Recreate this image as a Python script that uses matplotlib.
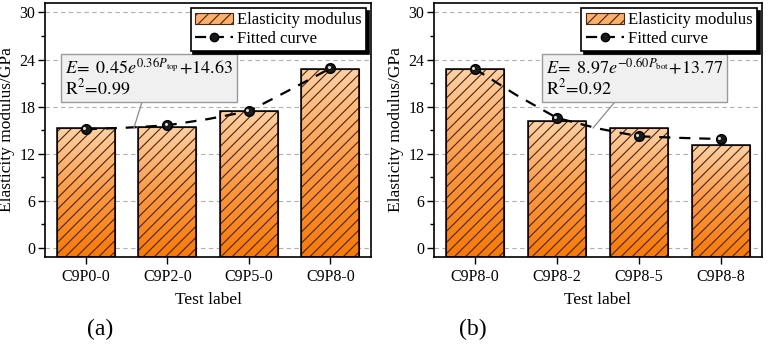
import matplotlib
matplotlib.use("Agg")
import matplotlib.pyplot as plt
import numpy as np
from matplotlib.colors import LinearSegmentedColormap
from matplotlib.patches import Rectangle
from matplotlib.lines import Line2D
from matplotlib.ticker import MultipleLocator

plt.rcParams['font.family'] = ['Liberation Serif', 'DejaVu Serif']
plt.rcParams['mathtext.fontset'] = 'stix'
plt.rcParams['hatch.linewidth'] = 0.8

# ---- data ----
labels_a = ["C9P0-0", "C9P2-0", "C9P5-0", "C9P8-0"]
values_a = [15.25, 15.4, 17.45, 22.8]
points_a = [15.1, 15.6, 17.4, 22.87]
curve_x_a = [0, 0.5, 1, 1.5, 2, 2.5, 3]
curve_y_a = [15.1, 15.3, 15.6, 16.4, 17.4, 20.1, 22.87]

labels_b = ["C9P8-0", "C9P8-2", "C9P8-5", "C9P8-8"]
values_b = [22.8, 16.1, 15.2, 13.15]
points_b = [22.8, 16.55, 14.2, 13.85]
curve_x_b = [0, 0.5, 1, 1.5, 2, 2.5, 3]
curve_y_b = [22.8, 19.5, 16.55, 15.2, 14.2, 14.0, 13.85]

eq_a = "$E\\!=\\ 0.45e^{0.36P_{\\mathrm{top}}}\\!+\\!14.63$\n$\\mathrm{R}^2\\!=\\!0.99$"
eq_b = "$E\\!=\\ 8.97e^{-0.60P_{\\mathrm{bot}}}\\!+\\!13.77$\n$\\mathrm{R}^2\\!=\\!0.92$"

YMIN, YMAX = -1.2, 31.2
cmap = LinearSegmentedColormap.from_list("og", ["#f77a08", "#fb9a45", "#fdd2a6"])
grad = np.linspace(0, 1, 256).reshape(-1, 1)

fig = plt.figure(figsize=(7.68, 3.44), dpi=100)
ax_a = fig.add_axes([0.0586, 0.253, 0.4245, 0.738])
ax_b = fig.add_axes([0.565, 0.253, 0.427, 0.738])


def draw(ax, labels, values, points, cx, cy, eq, box_xy, target):
    x = np.arange(len(labels))
    w = 0.71
    ax.set_xlim(-0.5, len(labels) - 0.5)
    ax.set_ylim(YMIN, YMAX)
    ax.yaxis.grid(True, linestyle=(0, (4, 3)), color="#b0b0b0", linewidth=0.8, zorder=0)
    ax.set_axisbelow(True)
    for xi, v in zip(x, values):
        r = Rectangle((xi - w / 2, YMIN), w, v - YMIN, facecolor="none", edgecolor="none", zorder=2)
        ax.add_patch(r)
        im = ax.imshow(grad, extent=[xi - w / 2, xi + w / 2, YMIN, v], origin="lower",
                       cmap=cmap, aspect="auto", zorder=2, interpolation="bilinear")
        im.set_clip_path(r)
        ax.add_patch(Rectangle((xi - w / 2, YMIN), w, v - YMIN, facecolor="none",
                               edgecolor="#4a2410", linewidth=0.8, hatch="///", zorder=3))
        ax.add_patch(Rectangle((xi - w / 2, YMIN), w, v - YMIN, facecolor="none",
                               edgecolor="black", linewidth=1.1, zorder=4))
    ax.plot(cx, cy, linestyle=(0, (5, 4)), color="black", linewidth=1.6, zorder=5)
    ax.plot(x, points, linestyle="none", marker="o", markersize=7,
            markerfacecolor="#1a1a1a", markeredgecolor="black", zorder=6)
    ax.plot(np.array(x) - 0.02, np.array(points) + 0.15, linestyle="none", marker="o", markersize=2.2,
            markerfacecolor="#dddddd", markeredgecolor="none", zorder=7)
    ax.set_xlim(-0.5, len(labels) - 0.5)
    ax.set_ylim(YMIN, YMAX)
    ax.set_xticks(x)
    ax.set_xticklabels(labels, fontsize=11.5)
    ax.set_yticks([0, 6, 12, 18, 24, 30])
    ax.yaxis.set_minor_locator(MultipleLocator(3))
    ax.tick_params(axis="y", which="major", direction="out", length=5, width=1, labelsize=11.5, pad=2)
    ax.tick_params(axis="y", which="minor", direction="out", length=3, width=1)
    ax.tick_params(axis="x", which="major", direction="out", length=5, width=1, pad=4)
    for s in ax.spines.values():
        s.set_linewidth(1.2)
    ax.set_xlabel("Test label", fontsize=12.5, labelpad=5)
    ax.set_ylabel("Elasticity modulus/GPa", fontsize=12.5, labelpad=3)

    ax.annotate(eq, xy=target, xytext=box_xy, textcoords="data", fontsize=13,
                ha="left", va="top", linespacing=1.0, zorder=8,
                bbox=dict(boxstyle="square,pad=0.22", facecolor="#f0f0f0", edgecolor="#9a9a9a", linewidth=1),
                arrowprops=dict(arrowstyle="-", color="#8a8a8a", linewidth=0.9, shrinkA=0, shrinkB=0))

    patch_h = Rectangle((0, 0), 1, 1, facecolor="#fbb06c", edgecolor="#4a2410", hatch="///", linewidth=0.8)
    line_h = Line2D([], [], linestyle=(0, (5, 3)), color="black", linewidth=1.6, marker="o",
                    markersize=6, markerfacecolor="#1a1a1a", markeredgecolor="black")
    leg = ax.legend([patch_h, line_h], ["Elasticity modulus", "Fitted curve"], loc="upper right",
                    fontsize=12, frameon=True, fancybox=False, borderaxespad=0.3,
                    handlelength=2.3, handletextpad=0.25, labelspacing=0.15, borderpad=0.25,
                    shadow={"color": "black", "alpha": 1.0})
    leg.get_frame().set_edgecolor("black")
    leg.get_frame().set_linewidth(1.2)
    leg.set_zorder(10)


draw(ax_a, labels_a, values_a, points_a, curve_x_a, curve_y_a, eq_a, (-0.25, 24.2), (0.59, 15.25))
draw(ax_b, labels_b, values_b, points_b, curve_x_b, curve_y_b, eq_b, (0.87, 24.2), (1.44, 15.25))

fig.text(0.131, 0.042, "(a)", fontsize=17, ha="center", va="center")
fig.text(0.615, 0.042, "(b)", fontsize=17, ha="center", va="center")

fig.savefig("out.png", dpi=100)
